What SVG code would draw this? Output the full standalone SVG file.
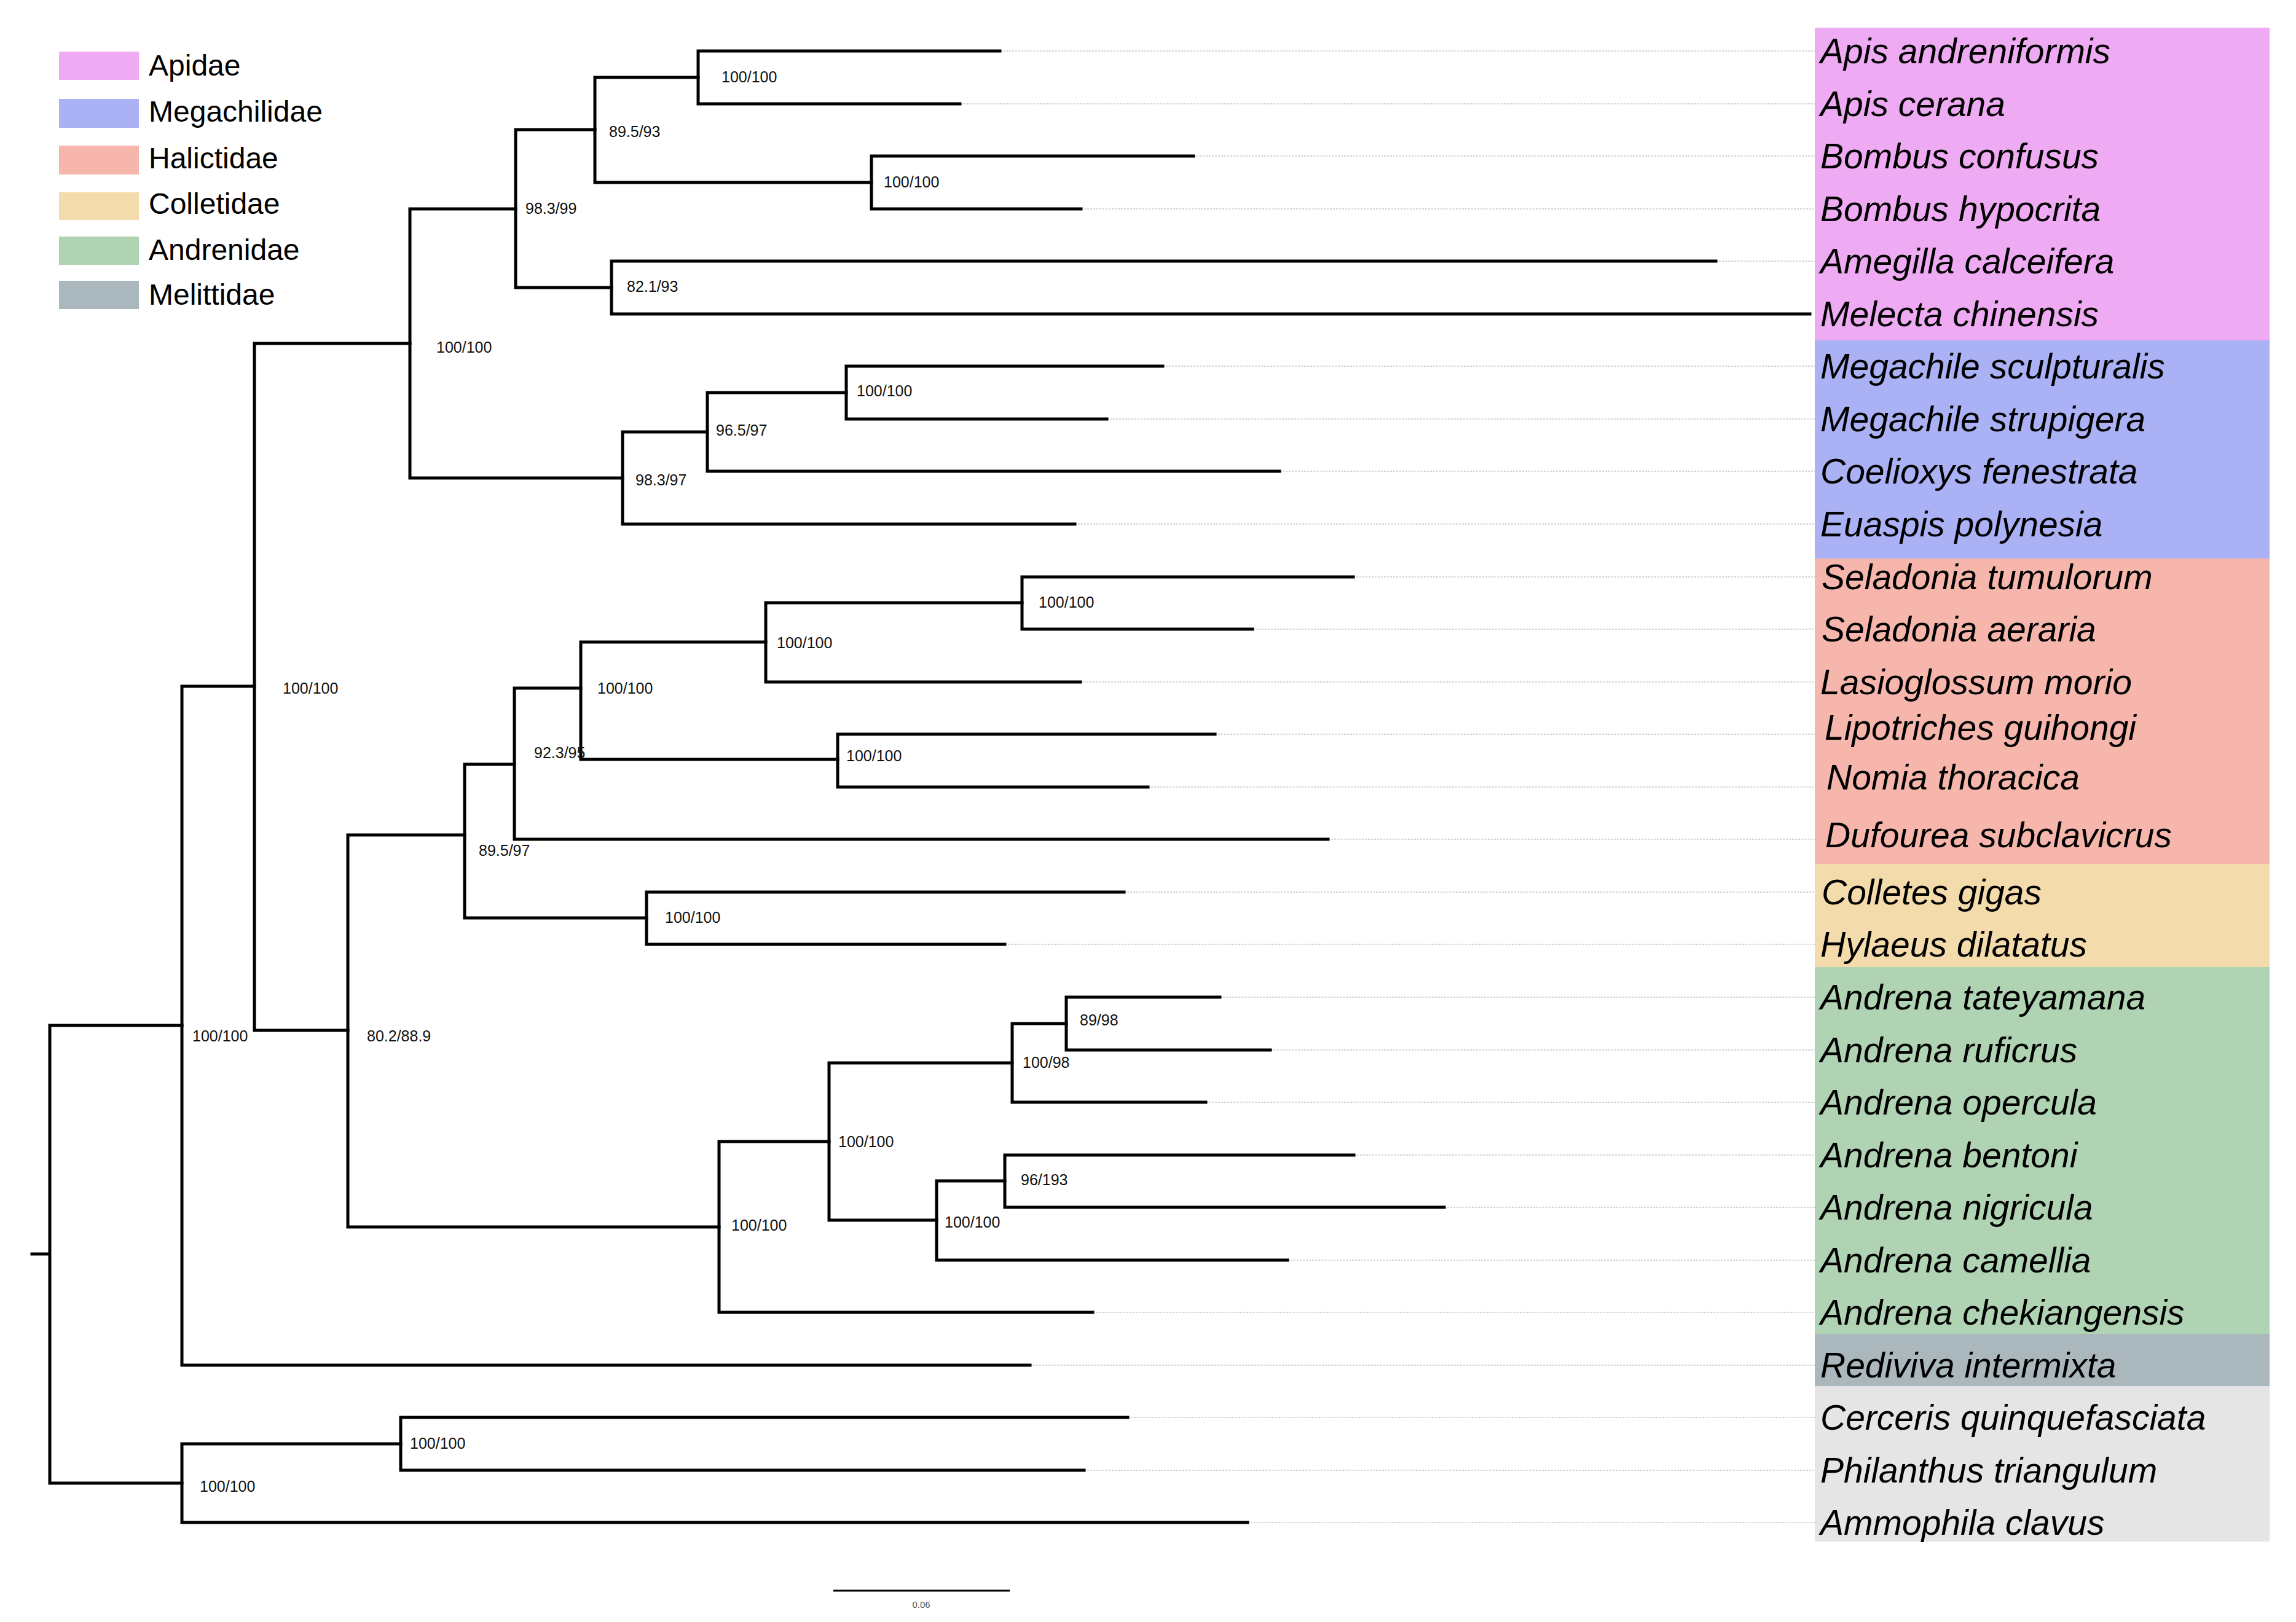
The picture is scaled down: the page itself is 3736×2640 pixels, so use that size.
<svg xmlns="http://www.w3.org/2000/svg" width="3736" height="2640" viewBox="0 0 3736 2640">
<style>
.br{fill:none;stroke:#000;stroke-width:5;stroke-linecap:square}
.dot{fill:none;stroke:#c8c8c8;stroke-width:1.6;stroke-dasharray:3 2}
.sup{font-family:"Liberation Sans",Arial,sans-serif;font-size:25px;fill:#111}
.tx{font-family:"Liberation Sans",Arial,sans-serif;font-size:57px;font-style:italic;fill:#000}
.lg{font-family:"Liberation Sans",Arial,sans-serif;font-size:48px;fill:#000}
.api{fill:#EEAAF2}.meg{fill:#AAB1F5}.hal{fill:#F7B6AB}.col{fill:#F3DBAB}.and{fill:#B0D3B3}.mel{fill:#AAB7BC}.out{fill:#E5E5E5}
</style>
<rect width="3736" height="2640" fill="#fff"/>
<g id="bands">
<rect class="api" x="2953" y="45" width="740" height="509"/>
<rect class="meg" x="2953" y="554" width="740" height="355"/>
<rect class="hal" x="2953" y="909" width="740" height="497"/>
<rect class="col" x="2953" y="1406" width="740" height="168"/>
<rect class="and" x="2953" y="1574" width="740" height="597"/>
<rect class="mel" x="2953" y="2171" width="740" height="85"/>
<rect class="out" x="2953" y="2256" width="740" height="253"/>
</g>
<g id="legend">
<g id="legend-apidae"><rect class="api" x="96" y="84" width="130" height="46"/><text class="lg" x="242" y="123">Apidae</text></g>
<g id="legend-megachilidae"><rect class="meg" x="96" y="161" width="130" height="47"/><text class="lg" x="242" y="198">Megachilidae</text></g>
<g id="legend-halictidae"><rect class="hal" x="96" y="237" width="130" height="47"/><text class="lg" x="242" y="274">Halictidae</text></g>
<g id="legend-colletidae"><rect class="col" x="96" y="313" width="130" height="45"/><text class="lg" x="242" y="348">Colletidae</text></g>
<g id="legend-andrenidae"><rect class="and" x="96" y="385" width="130" height="46"/><text class="lg" x="242" y="423">Andrenidae</text></g>
<g id="legend-melittidae"><rect class="mel" x="96" y="457" width="130" height="46"/><text class="lg" x="242" y="496">Melittidae</text></g>
</g>
<g id="leaders">
<path class="dot" d="M1627 83H2953M1562 169H2953M1942 254H2953M1759 340H2953M2792 425H2953M1892 596H2953M1801 682H2953M2082 767H2953M1749 853H2953M2202 939H2953M2038 1024H2953M1758 1110H2953M1977 1195H2953M1868 1281H2953M2161 1366H2953M1829 1452H2953M1635 1537H2953M1985 1623H2953M2067 1709H2953M1962 1794H2953M2203 1880H2953M2350 1965H2953M2095 2051H2953M1778 2136H2953M1676 2222H2953M1835 2307H2953M1764 2393H2953M2030 2478H2953"/>
</g>
<g id="connectors">
<path id="root" class="br" d="M52 2041H81M81 1669V2414M81 1669H296M81 2414H296"/>
<path id="n-outgroup" class="br" d="M296 2350V2478M296 2350H652M296 2478H2030"/>
<path id="n-cer-phi" class="br" d="M652 2307V2393M652 2307H1835M652 2393H1764"/>
<path id="n-bees" class="br" d="M296 1117V2222M296 1117H414M296 2222H1676"/>
<path id="n-A" class="br" d="M414 559V1677M414 559H667M414 1677H566"/>
<path id="n-B" class="br" d="M667 340V778M667 340H839M667 778H1013"/>
<path id="n-D" class="br" d="M839 211V468M839 211H968M839 468H995"/>
<path id="n-E" class="br" d="M968 126V297M968 126H1136M968 297H1418"/>
<path id="n-apis" class="br" d="M1136 83V169M1136 83H1627M1136 169H1562"/>
<path id="n-bombus" class="br" d="M1418 254V340M1418 254H1942M1418 340H1759"/>
<path id="n-ame-mel" class="br" d="M995 425V511M995 425H2792M995 511H2945"/>
<path id="n-F" class="br" d="M1013 703V853M1013 703H1151M1013 853H1749"/>
<path id="n-G" class="br" d="M1151 639V767M1151 639H1377M1151 767H2082"/>
<path id="n-megachile" class="br" d="M1377 596V682M1377 596H1892M1377 682H1801"/>
<path id="n-C" class="br" d="M566 1359V1997M566 1359H756M566 1997H1170"/>
<path id="n-H" class="br" d="M756 1244V1494M756 1244H837M756 1494H1052"/>
<path id="n-I" class="br" d="M837 1120V1366M837 1120H945M837 1366H2161"/>
<path id="n-J" class="br" d="M945 1045V1236M945 1045H1246M945 1236H1363"/>
<path id="n-K" class="br" d="M1246 981V1110M1246 981H1663M1246 1110H1758"/>
<path id="n-seladonia" class="br" d="M1663 939V1024M1663 939H2202M1663 1024H2038"/>
<path id="n-L" class="br" d="M1363 1195V1281M1363 1195H1977M1363 1281H1868"/>
<path id="n-M" class="br" d="M1052 1452V1537M1052 1452H1829M1052 1537H1635"/>
<path id="n-N" class="br" d="M1170 1858V2136M1170 1858H1349M1170 2136H1778"/>
<path id="n-O" class="br" d="M1349 1730V1986M1349 1730H1647M1349 1986H1524"/>
<path id="n-P" class="br" d="M1647 1666V1794M1647 1666H1735M1647 1794H1962"/>
<path id="n-Q" class="br" d="M1735 1623V1709M1735 1623H1985M1735 1709H2067"/>
<path id="n-R" class="br" d="M1524 1922V2051M1524 1922H1635M1524 2051H2095"/>
<path id="n-S" class="br" d="M1635 1880V1965M1635 1880H2203M1635 1965H2350"/>
</g>
<g id="support">
<text class="sup" x="1174" y="134">100/100</text>
<text class="sup" x="991" y="223">89.5/93</text>
<text class="sup" x="1438" y="305">100/100</text>
<text class="sup" x="855" y="348">98.3/99</text>
<text class="sup" x="1020" y="475">82.1/93</text>
<text class="sup" x="710" y="574">100/100</text>
<text class="sup" x="1394" y="645">100/100</text>
<text class="sup" x="1165" y="709">96.5/97</text>
<text class="sup" x="1034" y="790">98.3/97</text>
<text class="sup" x="1690" y="989">100/100</text>
<text class="sup" x="1264" y="1055">100/100</text>
<text class="sup" x="460" y="1129">100/100</text>
<text class="sup" x="972" y="1129">100/100</text>
<text class="sup" x="869" y="1234">92.3/95</text>
<text class="sup" x="1377" y="1239">100/100</text>
<text class="sup" x="779" y="1393">89.5/97</text>
<text class="sup" x="1082" y="1502">100/100</text>
<text class="sup" x="1757" y="1669">89/98</text>
<text class="sup" x="313" y="1695">100/100</text>
<text class="sup" x="597" y="1695">80.2/88.9</text>
<text class="sup" x="1664" y="1738">100/98</text>
<text class="sup" x="1364" y="1867">100/100</text>
<text class="sup" x="1661" y="1929">96/193</text>
<text class="sup" x="1537" y="1998">100/100</text>
<text class="sup" x="1190" y="2003">100/100</text>
<text class="sup" x="667" y="2358">100/100</text>
<text class="sup" x="325" y="2428">100/100</text>
</g>
<g id="taxa">
<g id="t-apis-andreniformis"><text class="tx" x="2962" y="103">Apis andreniformis</text></g>
<g id="t-apis-cerana"><text class="tx" x="2962" y="189">Apis cerana</text></g>
<g id="t-bombus-confusus"><text class="tx" x="2962" y="274">Bombus confusus</text></g>
<g id="t-bombus-hypocrita"><text class="tx" x="2962" y="360">Bombus hypocrita</text></g>
<g id="t-amegilla-calceifera"><text class="tx" x="2962" y="445">Amegilla calceifera</text></g>
<g id="t-melecta-chinensis"><text class="tx" x="2962" y="531">Melecta chinensis</text></g>
<g id="t-megachile-sculpturalis"><text class="tx" x="2962" y="616">Megachile sculpturalis</text></g>
<g id="t-megachile-strupigera"><text class="tx" x="2962" y="702">Megachile strupigera</text></g>
<g id="t-coelioxys-fenestrata"><text class="tx" x="2962" y="787">Coelioxys fenestrata</text></g>
<g id="t-euaspis-polynesia"><text class="tx" x="2962" y="873">Euaspis polynesia</text></g>
<g id="t-seladonia-tumulorum"><text class="tx" x="2964" y="959">Seladonia tumulorum</text></g>
<g id="t-seladonia-aeraria"><text class="tx" x="2964" y="1044">Seladonia aeraria</text></g>
<g id="t-lasioglossum-morio"><text class="tx" x="2962" y="1130">Lasioglossum morio</text></g>
<g id="t-lipotriches-guihongi"><text class="tx" x="2969" y="1204">Lipotriches guihongi</text></g>
<g id="t-nomia-thoracica"><text class="tx" x="2972" y="1285">Nomia thoracica</text></g>
<g id="t-dufourea-subclavicrus"><text class="tx" x="2970" y="1379">Dufourea subclavicrus</text></g>
<g id="t-colletes-gigas"><text class="tx" x="2964" y="1472">Colletes gigas</text></g>
<g id="t-hylaeus-dilatatus"><text class="tx" x="2962" y="1557">Hylaeus dilatatus</text></g>
<g id="t-andrena-tateyamana"><text class="tx" x="2962" y="1643">Andrena tateyamana</text></g>
<g id="t-andrena-ruficrus"><text class="tx" x="2962" y="1729">Andrena ruficrus</text></g>
<g id="t-andrena-opercula"><text class="tx" x="2962" y="1814">Andrena opercula</text></g>
<g id="t-andrena-bentoni"><text class="tx" x="2962" y="1900">Andrena bentoni</text></g>
<g id="t-andrena-nigricula"><text class="tx" x="2962" y="1985">Andrena nigricula</text></g>
<g id="t-andrena-camellia"><text class="tx" x="2962" y="2071">Andrena camellia</text></g>
<g id="t-andrena-chekiangensis"><text class="tx" x="2962" y="2156">Andrena chekiangensis</text></g>
<g id="t-rediviva-intermixta"><text class="tx" x="2962" y="2242">Rediviva intermixta</text></g>
<g id="t-cerceris-quinquefasciata"><text class="tx" x="2962" y="2327">Cerceris quinquefasciata</text></g>
<g id="t-philanthus-triangulum"><text class="tx" x="2962" y="2413">Philanthus triangulum</text></g>
<g id="t-ammophila-clavus"><text class="tx" x="2962" y="2498">Ammophila clavus</text></g>
</g>
<g id="scale-bar">
<path d="M1356 2589H1643" stroke="#000" stroke-width="3" fill="none"/>
<text x="1499" y="2617" text-anchor="middle" font-family="Liberation Sans, Arial, sans-serif" font-size="15" fill="#555">0.06</text>
</g>
</svg>
